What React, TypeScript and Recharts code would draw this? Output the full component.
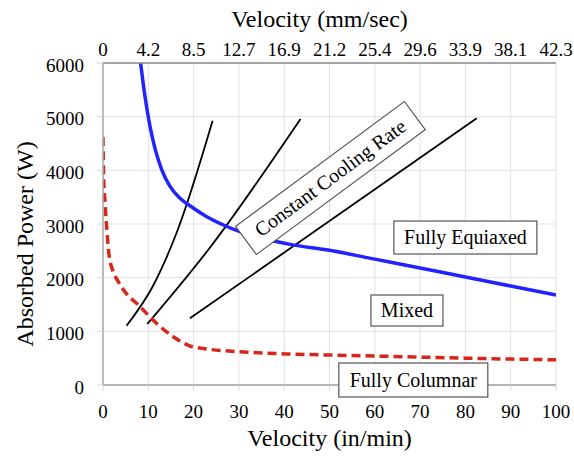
import React from 'react';
import { LineChart, Line, XAxis, YAxis, CartesianGrid, ReferenceDot, Label } from 'recharts';

// ---- Data ----
const xTicks = [0, 10, 20, 30, 40, 50, 60, 70, 80, 90, 100];
const topTickLabels = ['0', '4.2', '8.5', '12.7', '16.9', '21.2', '25.4', '29.6', '33.9', '38.1', '42.3'];
const yTicks = [0, 1000, 2000, 3000, 4000, 5000, 6000];

// Fully equiaxed boundary (blue)
const equiaxedVel = [8.3, 8.9, 9.65, 10.4, 11.5, 13.0, 14.8, 17.0, 19.2, 22.9, 26.6, 30.2, 33.9, 41.3, 50, 60, 70, 80, 90, 100];
const equiaxedPower = [6000, 5600, 5170, 4810, 4400, 4006, 3700, 3480, 3340, 3136, 2981, 2857, 2763, 2620, 2510, 2345, 2180, 2012, 1845, 1677];

// Fully columnar boundary (red dashed)
const columnarVel = [0, 0.1, 0.45, 0.85, 1.3, 2.3, 3.2, 4.5, 8.2, 11.8, 15.5, 19.2, 23, 30, 41, 50, 60, 70, 80, 90, 100];
const columnarPower = [4620, 4000, 3400, 2900, 2450, 2100, 1950, 1775, 1460, 1150, 900, 727, 670, 620, 578, 559, 540, 520, 500, 483, 470];

// Constant cooling rate lines (black)
const cooling1Vel = [5.2, 11, 16.4, 24.2];
const cooling1Power = [1105, 1840, 2870, 4925];
const cooling2Vel = [9.8, 23.2, 43.6];
const cooling2Power = [1137, 2515, 4956];
const cooling3Vel = [19.2, 82.5];
const cooling3Power = [1243, 4970];

// Annotations (label, anchor velocity, anchor power)
const annotationLabels = ['Fully Equiaxed', 'Mixed', 'Fully Columnar', 'Constant Cooling Rate'];
const annotationVel = [80.0, 67.1, 68.5, 50.2];
const annotationPower = [2748, 1388, 93, 3857];

// ---- helpers ----
const rows = (xs: number[], ys: number[]) => xs.map((v, i) => ({ v, p: ys[i] }));

const FONT = '"Liberation Serif", "Times New Roman", serif';

const boxStyles: Record<string, { w: number; h: number; angle: number; fs: number }> = {
  'Fully Equiaxed': { w: 143, h: 33, angle: 0, fs: 20 },
  'Mixed': { w: 72, h: 31, angle: 0, fs: 20 },
  'Fully Columnar': { w: 149, h: 34, angle: 0, fs: 20 },
  'Constant Cooling Rate': { w: 210, h: 35, angle: -36.5, fs: 20 },
};

const makeBox = (label: string) => (props: any) => {
  const { cx, cy } = props;
  const s = boxStyles[label];
  return (
    <g transform={`rotate(${s.angle}, ${cx}, ${cy})`}>
      <rect x={cx - s.w / 2} y={cy - s.h / 2} width={s.w} height={s.h} fill="#ffffff" stroke="#555555" strokeWidth={1.2} />
      <text x={cx} y={cy} dy="0.33em" textAnchor="middle" fontSize={s.fs} fontFamily={FONT} fill="#000">
        {label}
      </text>
    </g>
  );
};

const tickStyle = { fontSize: 19, fontFamily: FONT, fill: '#000' };

const topTitle = (props: any) => {
  const vb = props.viewBox || { x: 103, y: 0, width: 453, height: 63 };
  return (
    <text x={vb.x + vb.width / 2 - 10} y={vb.y + 27} textAnchor="middle" fontSize={24} fontFamily={FONT} fill="#000">
      Velocity (mm/sec)
    </text>
  );
};

const bottomTitle = (props: any) => {
  const vb = props.viewBox || { x: 103, y: 385, width: 453, height: 71 };
  return (
    <text x={vb.x + vb.width / 2} y={vb.y + 61} textAnchor="middle" fontSize={24} fontFamily={FONT} fill="#000">
      Velocity (in/min)
    </text>
  );
};

const leftTitle = (props: any) => {
  const vb = props.viewBox || { x: 0, y: 63, width: 103, height: 322 };
  const x = vb.x + 33;
  const y = vb.y + vb.height / 2 + 20;
  return (
    <text x={x} y={y} transform={`rotate(-90, ${x}, ${y})`} textAnchor="middle" fontSize={24} fontFamily={FONT} fill="#000">
      Absorbed Power (W)
    </text>
  );
};

const topFormatter = (v: number) => {
  const i = xTicks.findIndex((t) => Math.abs(t - v) < 1e-6);
  return i >= 0 ? topTickLabels[i] : '';
};

export default function App() {
  const annotations = annotationLabels.map((label, i) => ({ label, v: annotationVel[i], p: annotationPower[i] }));
  return (
    <div style={{ position: 'absolute', left: 0, top: 0 }}>
      <LineChart width={574} height={456} margin={{ top: 0, right: 18, bottom: 0, left: 0 }}>
        <CartesianGrid xAxisId="bottom" yAxisId="left" stroke="#e2e2e2" strokeWidth={1} />
        <XAxis
          xAxisId="bottom"
          dataKey="v"
          type="number"
          domain={[0, 100]}
          ticks={xTicks}
          allowDataOverflow
          height={71}
          tick={tickStyle}
          tickSize={6}
          tickMargin={14}
          axisLine={{ stroke: '#a0a0a0', strokeWidth: 1.5 }}
          tickLine={{ stroke: '#d6d6d6' }}
        >
          <Label content={bottomTitle} />
        </XAxis>
        <XAxis
          xAxisId="top"
          orientation="top"
          dataKey="v"
          type="number"
          domain={[0, 100]}
          ticks={xTicks}
          allowDataOverflow
          interval={0}
          tickFormatter={topFormatter}
          height={63}
          tick={tickStyle}
          tickSize={0}
          tickMargin={7}
          tickLine={false}
          axisLine={{ stroke: '#8a8a8a', strokeWidth: 1.5 }}
        >
          <Label content={topTitle} />
        </XAxis>
        <YAxis
          yAxisId="left"
          type="number"
          domain={[0, 6000]}
          ticks={yTicks}
          allowDataOverflow
          width={103}
          tick={{ ...tickStyle, dy: 2 }}
          tickSize={6}
          tickMargin={13}
          axisLine={{ stroke: '#a8a8a8', strokeWidth: 1.5 }}
          tickLine={{ stroke: '#d6d6d6' }}
        >
          <Label content={leftTitle} />
        </YAxis>
        <YAxis
          yAxisId="right"
          orientation="right"
          type="number"
          domain={[0, 6000]}
          allowDataOverflow
          width={0}
          tick={false}
          tickLine={false}
          axisLine={{ stroke: '#858585', strokeWidth: 1.5 }}
        />
        {/* invisible series that binds the top (mm/sec) axis and right frame axis */}
        <Line xAxisId="top" yAxisId="right" data={rows(cooling3Vel, cooling3Power)} dataKey="p" stroke="none" strokeWidth={0} dot={false} activeDot={false} legendType="none" isAnimationActive={false} />
        <Line xAxisId="bottom" yAxisId="left" data={rows(cooling1Vel, cooling1Power)} dataKey="p" type="monotone" stroke="#000" strokeWidth={1.8} dot={false} isAnimationActive={false} />
        <Line xAxisId="bottom" yAxisId="left" data={rows(cooling2Vel, cooling2Power)} dataKey="p" type="monotone" stroke="#000" strokeWidth={1.8} dot={false} isAnimationActive={false} />
        <Line xAxisId="bottom" yAxisId="left" data={rows(cooling3Vel, cooling3Power)} dataKey="p" type="linear" stroke="#000" strokeWidth={1.8} dot={false} isAnimationActive={false} />
        <Line xAxisId="bottom" yAxisId="left" data={rows(equiaxedVel, equiaxedPower)} dataKey="p" type="monotone" stroke="#2222ff" strokeWidth={3.5} dot={false} isAnimationActive={false} />
        <Line xAxisId="bottom" yAxisId="left" data={rows(columnarVel, columnarPower)} dataKey="p" type="monotone" stroke="#d9261c" strokeWidth={3.5} strokeDasharray="9 5" dot={false} isAnimationActive={false} />
        {annotations.map((a) => (
          <ReferenceDot
            key={a.label}
            xAxisId="bottom"
            yAxisId="left"
            x={a.v}
            y={a.p}
            ifOverflow="visible"
            shape={makeBox(a.label)}
          />
        ))}
      </LineChart>
    </div>
  );
}
